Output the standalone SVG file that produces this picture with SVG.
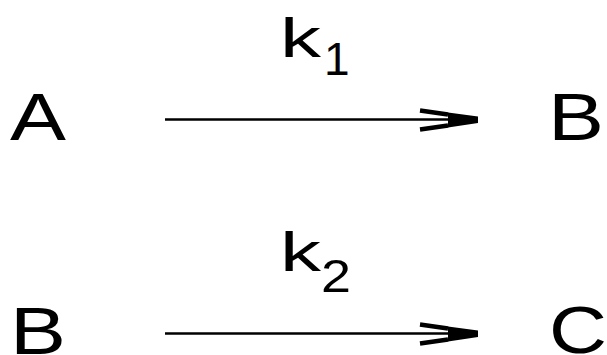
<svg xmlns="http://www.w3.org/2000/svg" width="607" height="355" viewBox="0 0 607 355">
<style>
.t{font-family:"Liberation Sans",Arial,sans-serif;font-size:66px;fill:#000}
.k{font-family:"Liberation Sans",Arial,sans-serif;font-size:56px;fill:#000}
.s{font-family:"Liberation Sans",Arial,sans-serif;font-size:46px;fill:#000}
.ln{stroke:#000;stroke-width:2.5;fill:none}
.hd{stroke:#000;stroke-width:4.5;fill:none}
</style>
<defs>
<g id="head">
<line class="hd" x1="-58" y1="-9" x2="-30" y2="-5"/>
<line class="hd" x1="-58" y1="10" x2="-30" y2="6"/>
<path d="M-30 -7 L0 -3 L0 3.5 L-30 8 Z" fill="#000"/>
</g>
</defs>
<g id="A"><text class="t" x="10" y="140" textLength="56" lengthAdjust="spacingAndGlyphs">A</text></g>
<g id="B1"><text class="t" x="548" y="140" textLength="56" lengthAdjust="spacingAndGlyphs">B</text></g>
<g id="k1"><text class="k" x="280" y="57" textLength="41" lengthAdjust="spacingAndGlyphs">k</text><text class="s" x="324" y="75">1</text></g>
<g id="B2"><text class="t" x="10" y="354" textLength="56" lengthAdjust="spacingAndGlyphs">B</text></g>
<g id="C"><text class="t" x="549" y="353" textLength="58" lengthAdjust="spacingAndGlyphs">C</text></g>
<g id="k2"><text class="k" x="280" y="271" textLength="41" lengthAdjust="spacingAndGlyphs">k</text><text class="s" x="321" y="292" textLength="30" lengthAdjust="spacingAndGlyphs">2</text></g>
<g id="connectors">
<line class="ln" x1="165" y1="119.5" x2="450" y2="119.5"/>
<use href="#head" x="478" y="119.5"/>
<line class="ln" x1="165" y1="333.5" x2="450" y2="333.5"/>
<use href="#head" x="478" y="333.5"/>
</g>
</svg>
